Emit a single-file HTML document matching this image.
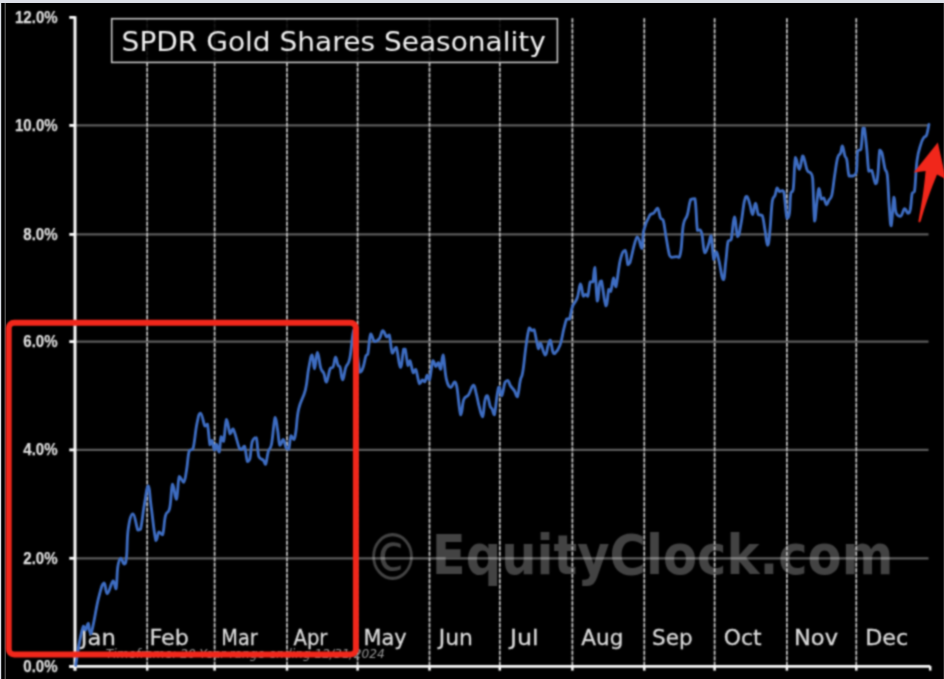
<!DOCTYPE html>
<html lang="en"><head><meta charset="utf-8"><title>SPDR Gold Shares Seasonality</title>
<style>
html,body{margin:0;padding:0;background:#000;}
body{width:944px;height:679px;overflow:hidden;position:relative;font-family:"Liberation Sans",sans-serif;}
svg{position:absolute;left:0;top:0;display:block;}
.yl{font-family:"Liberation Sans",sans-serif;font-weight:bold;font-size:16px;fill:#dedede;stroke:#dedede;stroke-width:0.25px;text-anchor:end;}
.ml{font-family:"DejaVu Sans","Liberation Sans",sans-serif;font-size:22px;fill:#dadada;stroke:#dadada;stroke-width:0.3px;}
.ttl{font-family:"DejaVu Sans","Liberation Sans",sans-serif;font-size:27.2px;fill:#f0f0f0;}
.wm{font-family:"DejaVu Sans","Liberation Sans",sans-serif;font-weight:bold;font-size:55px;fill:#434343;}
.tf{font-family:"DejaVu Sans","Liberation Sans",sans-serif;font-style:italic;font-size:12px;fill:#959595;}
</style></head><body>
<svg width="944" height="679" viewBox="0 0 944 679">
<rect x="0" y="0" width="944" height="679" fill="#000"/>
<rect x="0" y="0" width="944" height="3" fill="#dcdfe7"/>
<rect x="0" y="0" width="1.2" height="679" fill="#dcdfe7"/>
<rect x="4.6" y="3" width="1.2" height="676" fill="#5a5a5a"/>
<rect x="943" y="3" width="1" height="676" fill="#262626"/>
<defs><filter id="soft" x="0" y="0" width="944" height="679" filterUnits="userSpaceOnUse" color-interpolation-filters="sRGB"><feConvolveMatrix order="5" kernelMatrix="0.0005 0.005 0.0109 0.005 0.0005 0.005 0.0522 0.1141 0.0522 0.005 0.0109 0.1141 0.2491 0.1141 0.0109 0.005 0.0522 0.1141 0.0522 0.005 0.0005 0.005 0.0109 0.005 0.0005" edgeMode="none"/></filter></defs>
<g filter="url(#soft)">
<text class="wm" style="font-weight:normal" transform="translate(364.5 580) scale(1.02 1.18)">©</text>
<text class="wm" transform="translate(431.8 574.2) scale(0.902 1)">EquityClock.com</text>
<line x1="75" y1="558.3" x2="928.5" y2="558.3" stroke="#fff" stroke-opacity="0.36" stroke-width="2.3"/>
<line x1="75" y1="449.9" x2="928.5" y2="449.9" stroke="#fff" stroke-opacity="0.36" stroke-width="2.3"/>
<line x1="75" y1="341.6" x2="928.5" y2="341.6" stroke="#fff" stroke-opacity="0.36" stroke-width="2.3"/>
<line x1="75" y1="234.4" x2="928.5" y2="234.4" stroke="#fff" stroke-opacity="0.36" stroke-width="2.3"/>
<line x1="75" y1="125.4" x2="928.5" y2="125.4" stroke="#fff" stroke-opacity="0.36" stroke-width="2.3"/>
<line x1="147.2" y1="18.3" x2="147.2" y2="666" stroke="#383838" stroke-width="1.4"/>
<line x1="147.2" y1="18.3" x2="147.2" y2="666" stroke="#c6c6c6" stroke-width="1.7" stroke-dasharray="4 1.5"/>
<line x1="214.6" y1="18.3" x2="214.6" y2="666" stroke="#383838" stroke-width="1.4"/>
<line x1="214.6" y1="18.3" x2="214.6" y2="666" stroke="#c6c6c6" stroke-width="1.7" stroke-dasharray="4 1.5"/>
<line x1="287" y1="18.3" x2="287" y2="666" stroke="#383838" stroke-width="1.4"/>
<line x1="287" y1="18.3" x2="287" y2="666" stroke="#c6c6c6" stroke-width="1.7" stroke-dasharray="4 1.5"/>
<line x1="357.6" y1="18.3" x2="357.6" y2="666" stroke="#383838" stroke-width="1.4"/>
<line x1="357.6" y1="18.3" x2="357.6" y2="666" stroke="#c6c6c6" stroke-width="1.7" stroke-dasharray="4 1.5"/>
<line x1="429.5" y1="18.3" x2="429.5" y2="666" stroke="#383838" stroke-width="1.4"/>
<line x1="429.5" y1="18.3" x2="429.5" y2="666" stroke="#c6c6c6" stroke-width="1.7" stroke-dasharray="4 1.5"/>
<line x1="499.8" y1="18.3" x2="499.8" y2="666" stroke="#383838" stroke-width="1.4"/>
<line x1="499.8" y1="18.3" x2="499.8" y2="666" stroke="#c6c6c6" stroke-width="1.7" stroke-dasharray="4 1.5"/>
<line x1="572.4" y1="18.3" x2="572.4" y2="666" stroke="#383838" stroke-width="1.4"/>
<line x1="572.4" y1="18.3" x2="572.4" y2="666" stroke="#c6c6c6" stroke-width="1.7" stroke-dasharray="4 1.5"/>
<line x1="644.3" y1="18.3" x2="644.3" y2="666" stroke="#383838" stroke-width="1.4"/>
<line x1="644.3" y1="18.3" x2="644.3" y2="666" stroke="#c6c6c6" stroke-width="1.7" stroke-dasharray="4 1.5"/>
<line x1="714.6" y1="18.3" x2="714.6" y2="666" stroke="#383838" stroke-width="1.4"/>
<line x1="714.6" y1="18.3" x2="714.6" y2="666" stroke="#c6c6c6" stroke-width="1.7" stroke-dasharray="4 1.5"/>
<line x1="786.9" y1="18.3" x2="786.9" y2="666" stroke="#383838" stroke-width="1.4"/>
<line x1="786.9" y1="18.3" x2="786.9" y2="666" stroke="#c6c6c6" stroke-width="1.7" stroke-dasharray="4 1.5"/>
<line x1="856.3" y1="18.3" x2="856.3" y2="666" stroke="#383838" stroke-width="1.4"/>
<line x1="856.3" y1="18.3" x2="856.3" y2="666" stroke="#c6c6c6" stroke-width="1.7" stroke-dasharray="4 1.5"/>
<rect x="111.7" y="18.7" width="445.7" height="43.7" fill="#000" fill-opacity="0.88" stroke="#c6c6c6" stroke-width="1.6"/>
<text class="ttl" transform="translate(121.6 50.5) scale(1.03 1)">SPDR Gold Shares Seasonality</text>
<line x1="75" y1="16.2" x2="75" y2="670.5" stroke="#fafafa" stroke-width="3"/>
<line x1="69.3" y1="666.4" x2="930.2" y2="666.4" stroke="#fcfcfc" stroke-width="2.8"/>
<line x1="69.3" y1="666.4" x2="75" y2="666.4" stroke="#fafafa" stroke-width="2.8"/>
<line x1="69.3" y1="558.3" x2="75" y2="558.3" stroke="#fafafa" stroke-width="2.8"/>
<line x1="69.3" y1="449.9" x2="75" y2="449.9" stroke="#fafafa" stroke-width="2.8"/>
<line x1="69.3" y1="341.6" x2="75" y2="341.6" stroke="#fafafa" stroke-width="2.8"/>
<line x1="69.3" y1="234.4" x2="75" y2="234.4" stroke="#fafafa" stroke-width="2.8"/>
<line x1="69.3" y1="125.4" x2="75" y2="125.4" stroke="#fafafa" stroke-width="2.8"/>
<line x1="69.3" y1="17.4" x2="75" y2="17.4" stroke="#fafafa" stroke-width="2.8"/>
<line x1="75" y1="666" x2="75" y2="670.6" stroke="#fafafa" stroke-width="2.5"/>
<line x1="147.2" y1="666" x2="147.2" y2="670.6" stroke="#fafafa" stroke-width="2.5"/>
<line x1="214.6" y1="666" x2="214.6" y2="670.6" stroke="#fafafa" stroke-width="2.5"/>
<line x1="287" y1="666" x2="287" y2="670.6" stroke="#fafafa" stroke-width="2.5"/>
<line x1="357.6" y1="666" x2="357.6" y2="670.6" stroke="#fafafa" stroke-width="2.5"/>
<line x1="429.5" y1="666" x2="429.5" y2="670.6" stroke="#fafafa" stroke-width="2.5"/>
<line x1="499.8" y1="666" x2="499.8" y2="670.6" stroke="#fafafa" stroke-width="2.5"/>
<line x1="572.4" y1="666" x2="572.4" y2="670.6" stroke="#fafafa" stroke-width="2.5"/>
<line x1="644.3" y1="666" x2="644.3" y2="670.6" stroke="#fafafa" stroke-width="2.5"/>
<line x1="714.6" y1="666" x2="714.6" y2="670.6" stroke="#fafafa" stroke-width="2.5"/>
<line x1="786.9" y1="666" x2="786.9" y2="670.6" stroke="#fafafa" stroke-width="2.5"/>
<line x1="856.3" y1="666" x2="856.3" y2="670.6" stroke="#fafafa" stroke-width="2.5"/>
<line x1="930.2" y1="666" x2="930.2" y2="670.6" stroke="#fafafa" stroke-width="2.5"/>
<text class="yl" x="57.6" y="671.6" textLength="34.3" lengthAdjust="spacingAndGlyphs">0.0%</text>
<text class="yl" x="57.6" y="563.5" textLength="34.3" lengthAdjust="spacingAndGlyphs">2.0%</text>
<text class="yl" x="57.6" y="455.1" textLength="34.3" lengthAdjust="spacingAndGlyphs">4.0%</text>
<text class="yl" x="57.6" y="346.8" textLength="34.3" lengthAdjust="spacingAndGlyphs">6.0%</text>
<text class="yl" x="57.6" y="239.6" textLength="34.3" lengthAdjust="spacingAndGlyphs">8.0%</text>
<text class="yl" x="57.6" y="130.6" textLength="42.6" lengthAdjust="spacingAndGlyphs">10.0%</text>
<text class="yl" x="57.6" y="22.6" textLength="42.6" lengthAdjust="spacingAndGlyphs">12.0%</text>
<text class="ml" transform="translate(80.8 645) scale(1.033 1)">Jan</text>
<text class="ml" transform="translate(149.5 645) scale(1.014 1)">Feb</text>
<text class="ml" transform="translate(221.3 645) scale(0.877 1)">Mar</text>
<text class="ml" transform="translate(293.5 645) scale(0.892 1)">Apr</text>
<text class="ml" transform="translate(363.4 645) scale(0.951 1)">May</text>
<text class="ml" transform="translate(438.7 645) scale(0.994 1)">Jun</text>
<text class="ml" transform="translate(509.9 645) scale(1.085 1)">Jul</text>
<text class="ml" transform="translate(581.3 645) scale(0.980 1)">Aug</text>
<text class="ml" transform="translate(652 645) scale(0.978 1)">Sep</text>
<text class="ml" transform="translate(723.8 645) scale(0.992 1)">Oct</text>
<text class="ml" transform="translate(794 645) scale(1.025 1)">Nov</text>
<text class="ml" transform="translate(865.2 645) scale(1.012 1)">Dec</text>
<text class="tf" x="105.8" y="657.8" textLength="279" lengthAdjust="spacingAndGlyphs">Timeframe: 20 Year range ending 12/31/2024</text>
<path d="M75.7 665.4 C76.6 660.1 77.9 650 79.6 641.4 C81.3 632.8 82.1 628.6 83.4 626.1 C84.7 626.1 84.6 630 85.7 630 C86.8 629.4 87 623.3 88.2 623.3 C89.4 624.1 88.7 633.8 91 633.8 C93.3 628.1 95.8 608.6 98.7 597.4 C101.6 586.2 102.1 583.8 104 583 C105.9 583 105.3 593.6 107.3 593.6 C109.3 593.2 111.1 582.1 113 581 C114.9 581 114.9 588.8 116 588.8 C117.1 585.7 116.8 573.5 117.8 566.8 C118.8 560.1 119.3 558.8 120.7 558.2 C122.1 558.2 122.9 564 124.2 564 C125.5 563.8 125.6 564 126.5 557.2 C127.4 549.5 126.8 538.6 128.2 529.1 C129.6 519.6 130.9 513.8 133 513.8 C135.1 514 136.1 526.6 137.8 530 C139.5 530 139.1 530 140.6 529.1 C142.1 523.4 142.7 513.7 144.4 504.2 C146.1 494.7 146.8 486 148.3 486 C149.8 486.4 149.4 494.1 151.1 506.1 C152.8 518.1 154.2 534.9 155.9 540.6 C157.6 540.6 157.3 533.3 158.8 532 C160.3 532 161.1 534.8 162.6 534.8 C164.1 531.2 163.9 521.6 165.5 515.7 C167.1 509.8 168.1 515 169.7 508 C171.3 501 171.1 486 172.6 484.1 C174.1 484.1 174.9 499.4 176.4 499.4 C177.9 497.7 177.7 480.3 179.3 476.5 C180.9 476.5 182.1 482.2 183.7 482.2 C185.3 480.7 185.4 476.7 186.6 469.8 C187.8 462.9 187.8 455.6 189.2 451 C190.6 448.7 191.3 451 193 448.7 C194.7 442.8 195.2 432 196.8 424.2 C198.5 416.4 198.7 413.1 200.5 413.1 C202.3 413.5 203.4 423.7 204.9 426.1 C206.4 426.1 206.3 424.2 207.4 424.2 C208.5 428.3 209 441.3 210 444.9 C211 444.9 211 440.5 212 440.5 C213 441.6 213.4 449.2 214.4 450 C215.4 450 215.3 444.3 216.4 444.3 C217.5 444.7 218.2 452 219.2 452 C220.2 450.3 220.1 439 221.1 436.7 C222.1 436.7 222.4 441.4 223.6 441.4 C224.8 437.6 225.1 421.1 226.5 419.4 C227.9 419.4 228.6 431.7 230.1 433.8 C231.6 433.8 231.2 429 233.2 429 C235.2 432.1 237.5 443.6 239.3 448.1 C241.1 449.5 240.5 449.5 241.6 449.5 C242.7 449.1 243.2 446.2 244.5 446.2 C245.8 448.8 246.2 458.8 247.4 461.5 C248.6 461.5 248.8 461.5 249.9 458.7 C251 454.3 250.9 446 252.3 441.4 C253.7 437.6 254.7 437.6 256.2 437.6 C257.7 441 257.3 451.7 258.9 456.7 C260.5 460.2 261.8 458.5 263.3 460.2 C264.8 461.9 264.5 464.4 265.6 464.4 C266.7 462.4 267.1 455.4 268.4 451 C269.7 446.6 270 451 271.5 444.3 C273 436.9 273.8 420.6 275.1 417.5 C276.4 417.5 276.5 423.9 277.6 430 C278.7 436.1 278.6 443.2 279.9 445.3 C281.2 445.3 281.9 439.5 283.3 439.5 C284.7 440.1 285 446 286.2 448.1 C287.4 449.1 287.6 449.1 288.7 449.1 C289.8 446.4 289.9 437.8 291 435.7 C292.1 435.7 292.8 439.5 293.9 439.5 C295 438.7 294.7 438.6 295.8 431.9 C296.9 425.2 296.6 418.2 298.7 408.9 C300.8 399.6 303.2 398.6 305.4 389.8 C307.6 381 307.1 376.4 308.6 368.7 C310.1 361 310.8 354.9 312.1 354.9 C313.4 354.9 313.3 368.7 314.5 368.7 C315.7 368.1 316 352.6 317.4 352.4 C318.8 352.4 319.3 363.2 320.7 367.8 C322.1 372.4 322.6 370.4 323.9 373.5 C325.2 376.6 325 382.1 326.4 382.1 C327.8 381 328.7 372.1 330.2 368.7 C331.7 366.8 331.9 368.7 333.1 366.8 C334.3 364.3 334.5 357.6 335.6 357.2 C336.7 357.2 336.9 362.7 337.9 364.9 C338.9 367.1 339.1 364.9 340.1 367.4 C341.1 370.7 341.3 379.9 342.6 379.9 C343.9 379.9 344.2 372 345.8 367.4 C347.4 362.8 348.1 366.2 349.7 358.8 C351.3 351.4 351.8 340.3 352.9 333.9 C354 329.5 353.1 329.5 354.6 329.5 C356.1 337.9 357.9 363.9 359.8 372.2 C361.7 372.2 361.8 371 363.1 367.4 C364.4 363.8 364.9 358.8 365.9 355.9 C366.9 354 366.7 355.9 367.8 354 C368.9 349.2 369.2 336.6 370.7 333.9 C372.2 333.9 372.6 340.5 374.5 341.6 C376.4 341.6 377.5 341.1 379.3 338.7 C381.1 336.3 381.2 331.1 382.8 330.7 C384.4 330.7 385.2 335.9 386.6 336.8 C388 336.8 388 334.9 389.3 334.9 C390.6 338.5 390.8 350.4 392.3 353.1 C393.8 353.1 394.4 347.3 396.2 347.3 C398 350.4 398.8 367 400.4 367.4 C402 367.4 402.5 353.2 403.6 349.2 C404.7 349.2 404.2 349.2 405.2 349.2 C406.2 352.8 406.9 363 408 365.5 C409.1 365.5 408.9 360.7 410 360.7 C411.1 362.3 411.9 370.9 413.2 372.8 C414.5 372.8 414.3 369.3 415.7 369.3 C417.1 371.7 418 381.4 419.5 383.7 C421 383.7 421.2 380.3 422.4 379.9 C423.6 379.9 423.8 381.8 424.9 381.8 C426 380.7 426.2 375.5 427.2 375.1 C428.2 375.1 428.2 379.9 429.5 379.9 C430.8 376.7 431.5 363.6 432.9 360.7 C434.3 360.7 434.6 366.1 435.8 366.5 C437 366.5 437.2 362.6 438.3 362.6 C439.4 363.2 439.5 369.3 440.6 369.3 C441.7 367.6 441.8 355 443.1 355 C444.4 357.1 444.6 371.8 446.3 378.9 C448 386 448.9 386.9 450.7 387.5 C452.5 387.5 453.2 382 454.5 381.8 C455.8 381.8 455.4 381.8 456.8 386.6 C458.2 393.9 459.2 412.1 460.7 414.9 C462.2 414.9 462.1 403.9 463.8 399.5 C465.5 395.1 466.5 397.8 468.6 394.7 C470.7 391.6 471.7 385.4 473.4 385.2 C475.1 385.2 475 389.2 476.3 393.8 C477.6 398.4 477.7 401.2 479.1 406.2 C480.5 411.2 481.3 416.7 482.6 416.7 C483.9 415.4 483.8 405.1 484.9 400.5 C486 395.9 486.2 395.7 487.4 395.7 C488.6 397 489.1 403.3 490.2 406.2 C491.3 409.1 491.3 407.2 492.2 409.1 C493.1 411 493.3 414.8 494.4 414.8 C495.5 411.4 496.2 399.9 497.3 393.8 C498.4 387.7 498.2 387.1 499.2 387.1 C500.2 387.5 500.4 395.7 501.7 395.7 C503 394.6 503.7 385.7 505 382.3 C506.3 380.4 506.5 380.4 507.8 380.4 C509.1 381.2 509.2 383.8 510.7 386.1 C512.2 388.4 513 388.6 514.5 390.9 C516 393.2 516.1 396.7 517.4 396.7 C518.7 394.4 519.1 385.9 520.3 380.4 C521.5 374.9 521.5 379.4 522.8 371.8 C524.1 364.2 524.6 355.6 526 345.9 C527.4 336.2 528 331.2 529.3 327.8 C530.6 327.8 530.7 330.2 531.8 330.6 C532.9 330.6 533 329.7 534.1 329.7 C535.2 332 535.6 336.9 536.6 341.1 C537.6 345.3 537.7 348.4 538.5 348.8 C539.3 348.8 538.9 343.1 540.4 343.1 C541.9 344.5 543.5 354.5 545.2 355.1 C546.9 355.1 546.9 349.2 548 345.9 C549.1 342.6 549.2 340.2 550.3 340.2 C551.4 341.5 551.8 348.8 552.8 351.7 C553.8 353.6 553.1 353.6 554.7 353.6 C556.3 352.1 558.1 350.5 560.1 345 C562.1 339.5 562.4 334.5 563.9 328.7 C565.4 322.9 565.6 320.9 566.8 318.8 C568 318.8 568.3 319.1 569.5 319.1 C570.7 316.4 570.7 311.3 572.4 306.7 C574.1 302.1 575.4 303.1 577.2 298.1 C579 293.1 579.2 284.2 580.5 283.8 C581.8 283.8 582.1 293.9 583.3 296.2 C584.5 296.2 584.8 294.3 585.8 294.3 C586.8 294.3 586.8 296.2 587.8 296.2 C588.8 293.5 589.1 285 590.2 281.9 C591.3 281.9 591.9 281.9 592.9 281.9 C593.9 278.7 593.8 267.5 594.8 267.5 C595.8 271.7 596.2 297.4 597.3 301 C598.4 301 598.7 288.2 599.6 283.8 C600.5 280.9 600.1 280.9 601.5 280.9 C602.9 285.7 604.3 303.9 605.9 305.8 C607.5 305.8 607.7 292.7 608.8 289.5 C609.9 289.5 609.6 291.4 610.7 291.4 C611.8 288.9 612.5 279 613.6 278 C614.7 278 614.4 286.7 615.9 286.7 C617.4 282.7 618.3 267.9 620.3 259.9 C622.3 251.9 623.4 250.3 625.1 250.3 C626.8 251.3 626.8 261.9 627.9 264.6 C629 264.6 627.9 264.6 629.9 262.7 C631.9 256.6 634.5 240 637.1 236.9 C639.7 236.9 640.4 248.4 641.9 248.4 C643.4 246.9 642 237.6 643.8 230.2 C645.6 222.8 647.8 218.7 650 214.9 C652.2 213 652.1 214.5 653.8 213 C655.5 211.5 656.1 208.2 657.6 208.2 C659.1 209.3 659.2 215.1 660.5 217.8 C661.8 220.5 662 217.8 663.3 220.6 C664.6 225 664.8 230.2 666.2 237.8 C667.6 245.4 668.2 250.8 669.5 255.1 C670.8 257.4 670.4 257.1 672 257.4 C673.6 257.4 675.2 256.6 676.7 256.6 C678.2 256.6 678 257.4 679 257.4 C680 255.8 680.1 256.6 681.1 249.3 C682.1 242 682 232 683.4 224.4 C684.8 216.8 685.7 220.4 687.3 214.9 C688.9 209.4 689 203.2 690.7 199.6 C692.4 198.6 693.4 198.6 694.9 198.6 C696.4 205.3 696.3 223.3 697.4 230.2 C698.5 230.2 699 229.9 700 229.9 C701 230.7 700.8 229.9 701.9 233.7 C703 238.7 703.3 250.5 704.8 252.8 C706.3 252.8 707.2 248 708.6 244.2 C710 240.4 710 235.6 711.1 235.6 C712.2 239 712.7 255.9 713.8 259.5 C714.9 259.5 715.1 251.9 716.3 251.9 C717.5 252.3 717.6 255.3 719.1 261.4 C720.6 267.5 721.8 279.6 723.3 279.6 C724.8 279.6 724.7 269.8 725.8 261.4 C726.9 253 726.9 246.1 728.1 241.3 C729.3 239.4 729.8 241.3 731.2 239.4 C732.6 234.1 733 217.6 734.4 217 C735.8 217 736.2 235.2 737.7 236.6 C739.2 236.6 739.6 231 741.1 223.2 C742.6 215.4 743.1 207 744.4 201.1 C745.7 196.4 745.7 196.4 746.9 196.4 C748.1 197 748.5 200 749.8 204 C751.1 208 751.3 214.5 752.6 214.5 C753.9 214.3 754.2 203.1 755.5 203.1 C756.8 203.1 756.9 211.8 758.4 214.5 C759.9 215.5 760.7 214.5 762.2 215.5 C763.7 219.1 763.9 224.3 765.1 230.8 C766.3 237.3 766.5 245.2 767.6 245.2 C768.7 245.2 768.9 240.5 769.9 230.8 C770.9 221.1 771.2 208.9 772.3 201.1 C773.4 195.4 773.9 198.3 775 195.4 C776.1 192.5 776.1 188.6 777.1 187.8 C778.1 187.8 778.3 191 779.4 191.6 C780.5 191.6 781.3 190.6 782.3 190.6 C783.3 190.8 783 190.6 784 192.3 C785 198.4 785.7 213.5 786.9 218.1 C788.1 218.1 788.6 218.1 789.4 213.3 C790.2 208 789.9 199.5 790.7 194.2 C791.5 189.4 792.1 194.2 793.2 189.4 C794.3 181.3 794.2 161.9 795.5 157.5 C796.8 157.5 797.7 169.3 799.3 169.3 C800.9 168.9 801.4 157.8 802.6 155.9 C803.8 155.9 803.7 157.5 804.7 160.7 C805.7 163.9 806 167.6 807.3 170.3 C808.6 173.1 809.6 171.3 810.8 173.2 C812 175.1 811.9 173.2 812.7 178.9 C813.5 189.4 813.7 215.9 814.6 221 C815.5 221 815.9 209.1 816.9 201.9 C817.9 194.8 818 189.1 819 188.5 C820 188.5 820.2 196.9 821.3 199 C822.4 199 822.7 198 823.8 198 C824.9 199.3 825.4 204.3 826.5 204.7 C827.6 204.7 827.8 202.1 829 200 C830.2 197.9 830.5 200 831.8 195.2 C833.1 189.7 833.4 183.3 834.7 175.1 C836 166.9 836.3 162.6 837.6 157.8 C838.9 153.1 839.4 155.7 840.5 153.1 C841.6 150.5 841.4 146 842.4 146 C843.4 146.6 843.9 152.9 844.9 155.9 C845.9 158.9 845.9 155.9 846.8 159.8 C847.7 164.2 847.8 172.4 849.1 176 C850.4 176 851.3 176 852.9 176 C854.5 175.2 855.2 176 856.3 172.2 C857.4 166.7 856.7 156.2 857.7 151.1 C858.7 149.2 859.8 151.1 860.9 149.2 C862 144.2 862.1 132.8 862.9 128.2 C863.7 128.2 863.6 128.2 864.4 128.2 C865.2 132.6 865.7 138.8 866.7 148.3 C867.7 157.8 867.7 166.4 868.8 171.2 C869.9 171.2 870.2 170.3 871.7 170.3 C873.2 173.1 874.2 182.6 875.5 183.7 C876.8 183.7 876.9 182.5 877.8 175.1 C878.7 167.7 878.8 155 879.7 150.2 C880.6 150.2 880.9 150.2 882 153.1 C883.1 157.1 883.7 163.6 884.9 168.4 C886.1 173.2 886.3 168.4 887.3 175.1 C888.3 183.7 888.4 196.4 889.3 207.6 C890.2 218.8 890.2 225.8 891.2 225.8 C892.2 223.5 892.9 200 894 197.1 C895.1 197.1 894.5 208.2 896 212.4 C897.5 216.2 898.8 216.2 900.7 216.2 C902.6 215.4 903 209.2 904.6 208.6 C906.2 208.6 906.7 213.1 908 213.3 C909.3 213.3 909.4 213.3 910.3 209.5 C911.2 205.1 911.3 197.3 912.2 193.3 C913.1 191.3 913.4 193.3 914.5 191.3 C915.6 184.1 915.6 171 917 160.7 C918.4 150.4 919.3 149.4 920.8 144.4 C922.3 139.4 922.4 139.9 923.7 137.8 C925 135.7 925.5 137.8 926.6 134.9 C927.7 132 928.4 126.7 928.9 124.4" fill="none" stroke="#3e6dc2" stroke-width="2.85" stroke-linejoin="round" stroke-linecap="round"/>
<rect x="8.7" y="322.85" width="347.2" height="331.55" rx="5.5" ry="5.5" fill="none" stroke="#f1271b" stroke-width="6"/>
<path d="M937.8 142.6 L913.8 172.6 L925.6 171 C924 190 921 207 918.4 221.2 Q918.9 223.4 920.6 221.6 C925 206 930.5 190 937 174.6 L946 179.3 Z" fill="#f1271b"/>
</g>
</svg></body></html>
